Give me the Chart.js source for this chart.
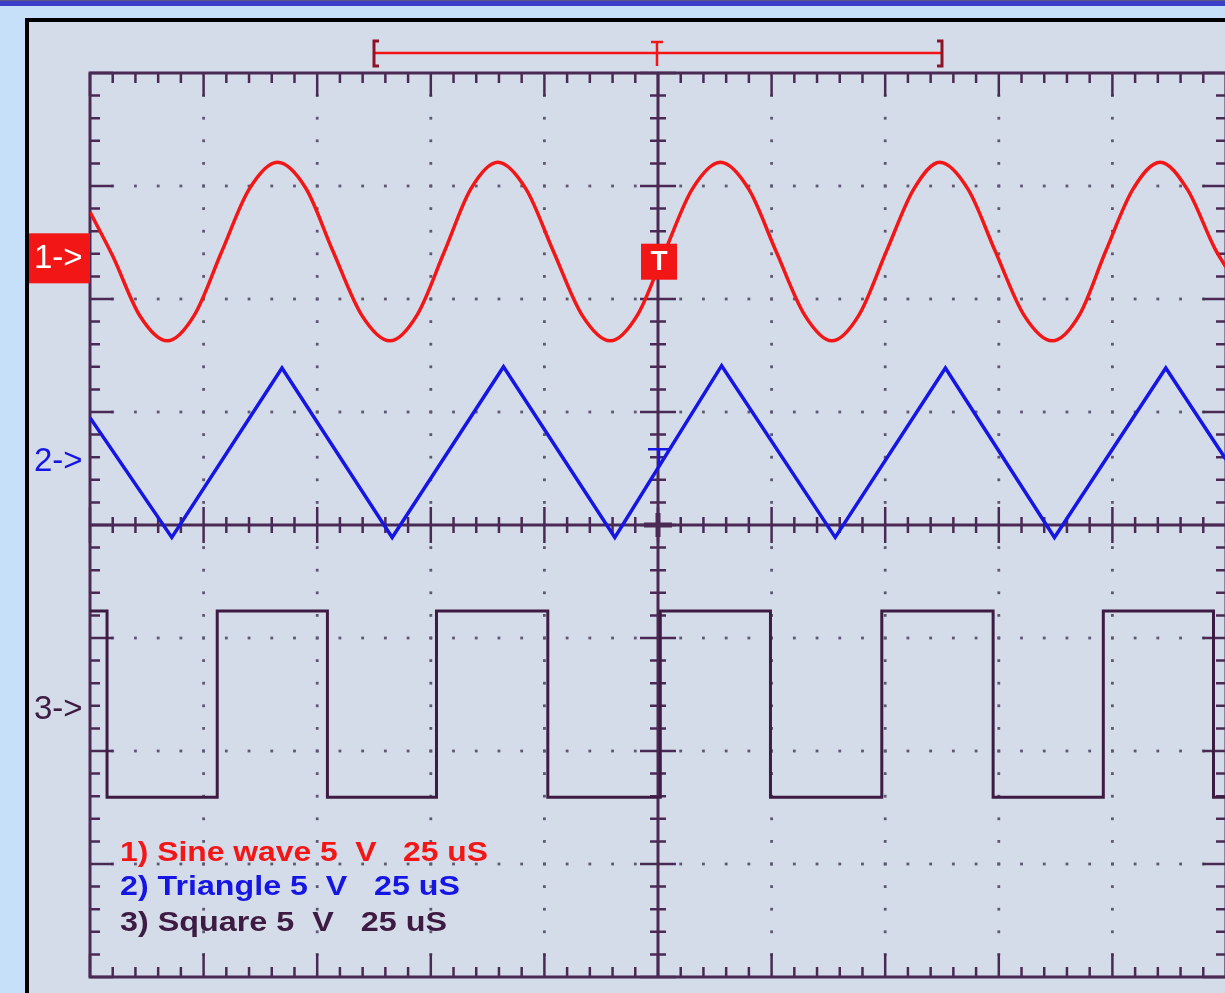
<!DOCTYPE html>
<html>
<head>
<meta charset="utf-8">
<script src="https://cdn.jsdelivr.net/npm/chart.js@4.4.0/dist/chart.umd.min.js"></script>
<style>
  html, body { margin: 0; padding: 0; overflow: hidden; }
  body { width: 1225px; height: 993px; background: #c6e0fa; position: relative; }
  #topbar { position: absolute; left: 0; top: 0; width: 1225px; height: 6px; background: #3b3fc9; border-top: 1px solid #5a5a80; box-sizing: border-box; }
  #panel { position: absolute; left: 25px; top: 18px; width: 1220px; height: 990px; background: #d4dcea; border-left: 4px solid #000; border-top: 4px solid #000; }
  #scope { position: absolute; left: 0; top: 0; }
</style>
</head>
<body>
<div id="topbar"></div>
<div id="panel"></div>
<canvas id="scope" width="1240" height="993"></canvas>
<script>
// time in divisions (25 uS/div), amplitude in divisions (5 V/div)
const sineTime = [0.00, 0.20, 0.44, 0.68, 0.92, 1.16, 1.40, 1.65, 1.90, 2.14, 2.39, 2.64,
  2.88, 3.12, 3.35, 3.59, 3.84, 4.08, 4.33, 4.58, 4.82, 5.06, 5.30, 5.55, 5.80, 6.04,
  6.29, 6.53, 6.77, 7.01, 7.25, 7.48, 7.73, 7.97, 8.22, 8.47, 8.71, 8.94, 9.18, 9.42,
  9.66, 9.90, 10.0];
const sineVolts = [2.77, 2.38, 1.85, 1.63, 1.86, 2.42, 2.97, 3.21, 2.98, 2.42, 1.86, 1.63,
  1.86, 2.42, 2.97, 3.21, 2.97, 2.42, 1.86, 1.63, 1.86, 2.42, 2.97, 3.21, 2.97, 2.42,
  1.86, 1.63, 1.86, 2.42, 2.97, 3.21, 2.97, 2.42, 1.86, 1.63, 1.86, 2.42, 2.97, 3.21,
  2.97, 2.45, 2.28];

const triTime = [0, 0.72, 1.69, 2.66, 3.64, 4.62, 5.56, 6.56, 7.53, 8.49, 9.47, 10];
const triVolts = [0.95, -0.11, 1.39, -0.11, 1.40, -0.11, 1.41, -0.11, 1.39, -0.11, 1.39, 0.58];

const squareTime = [0, 0.15, 1.12, 2.09, 3.05, 4.03, 5.02, 5.99, 6.97, 7.95, 8.92, 9.89, 10];
const squareVolts = [-0.76, -2.41, -0.76, -2.41, -0.76, -2.41, -0.76, -2.41, -0.76, -2.41, -0.76, -2.41, -2.41];

const channelNames = ['1->', '2->', '3->'];
const channelLevels = [2.36, 0.57, -1.63];
const legendLines = ['1) Sine wave 5  V   25 uS', '2) Triangle 5  V   25 uS', '3) Square 5  V   25 uS'];
const triggerTime = 5;
const triggerLevel = 2.33;
const trig2Level = 0.67;
const windowRange = [2.5, 7.5];

const RED = '#f21616';
const BLUE = '#1616e4';
const DARK = '#3e1b42';
const AXIS = '#4a2a55';
const DOT = '#5e5872';

const pts = (t, v) => t.map((x, i) => ({ x: x, y: v[i] }));

const graticule = {
  id: 'graticule',
  beforeDatasetsDraw(chart) {
    const { ctx, chartArea: a, scales: { x, y } } = chart;
    ctx.save();
    // dotted grid
    ctx.fillStyle = DOT;
    for (let i = 1; i < 10; i++) {
      if (i === 5) continue;
      const px = x.getPixelForValue(i);
      for (let k = 1; k < 40; k++) {
        const py = y.getPixelForValue(-4 + k * 0.2);
        ctx.fillRect(px - 1.4, py - 1.4, 2.8, 2.8);
      }
    }
    for (let j = -3; j <= 3; j++) {
      if (j === 0) continue;
      const py = y.getPixelForValue(j);
      for (let k = 1; k < 50; k++) {
        const px = x.getPixelForValue(k * 0.2);
        ctx.fillRect(px - 1.4, py - 1.4, 2.8, 2.8);
      }
    }
    ctx.strokeStyle = AXIS;
    ctx.lineWidth = 3;
    ctx.strokeRect(a.left, a.top, a.right - a.left, a.bottom - a.top);
    const cx = x.getPixelForValue(5);
    const cy = y.getPixelForValue(0);
    ctx.beginPath();
    ctx.moveTo(cx, a.top); ctx.lineTo(cx, a.bottom);
    ctx.moveTo(a.left, cy); ctx.lineTo(a.right, cy);
    ctx.stroke();
    // ticks
    ctx.lineWidth = 2.5;
    ctx.beginPath();
    for (let k = 0; k <= 50; k++) {
      const px = x.getPixelForValue(k * 0.2);
      const major = k % 5 === 0;
      const len = major ? 23 : 10;
      const c = major ? 18 : 8;
      ctx.moveTo(px, a.top); ctx.lineTo(px, a.top + len);
      ctx.moveTo(px, a.bottom); ctx.lineTo(px, a.bottom - len);
      ctx.moveTo(px, cy - c); ctx.lineTo(px, cy + c);
    }
    for (let k = 0; k <= 40; k++) {
      const py = y.getPixelForValue(-4 + k * 0.2);
      const major = k % 5 === 0;
      const len = major ? 23 : 10;
      const c = major ? 18 : 8;
      ctx.moveTo(a.left, py); ctx.lineTo(a.left + len, py);
      ctx.moveTo(a.right, py); ctx.lineTo(a.right - len, py);
      ctx.moveTo(cx - c, py); ctx.lineTo(cx + c, py);
    }
    ctx.stroke();
    // thicker cross at the centre
    ctx.lineWidth = 5;
    ctx.beginPath();
    ctx.moveTo(cx - 14, cy); ctx.lineTo(cx + 14, cy);
    ctx.moveTo(cx, cy - 12); ctx.lineTo(cx, cy + 12);
    ctx.stroke();
    ctx.restore();
  }
};

const overlay = {
  id: 'overlay',
  afterDatasetsDraw(chart) {
    const { ctx, chartArea: a, scales: { x, y } } = chart;
    ctx.save();
    // channel markers
    ctx.font = '33px "Liberation Sans", Arial, sans-serif';
    ctx.textBaseline = 'middle';
    const chColors = [RED, BLUE, DARK];
    channelNames.forEach((name, i) => {
      const py = y.getPixelForValue(channelLevels[i]);
      if (i === 0) {
        ctx.fillStyle = RED;
        ctx.fillRect(29, py - 25, a.left - 29, 50);
        ctx.fillStyle = '#fff';
      } else {
        ctx.fillStyle = chColors[i];
      }
      ctx.fillText(name, 34, py + 1);
    });

    // trigger box
    const tx = x.getPixelForValue(triggerTime);
    const ty = y.getPixelForValue(triggerLevel);
    ctx.fillStyle = RED;
    ctx.fillRect(tx - 17, ty - 18, 36, 36);
    ctx.fillStyle = '#fff';
    ctx.font = 'bold 28px "Liberation Sans", Arial, sans-serif';
    ctx.textAlign = 'center';
    ctx.fillText('T', tx + 1, ty + 1);
    ctx.textAlign = 'left';

    // small blue level marker
    const by = y.getPixelForValue(trig2Level);
    ctx.strokeStyle = BLUE;
    ctx.lineWidth = 2.5;
    ctx.beginPath();
    ctx.moveTo(tx - 10, by); ctx.lineTo(tx + 12, by);
    ctx.moveTo(tx + 1, by); ctx.lineTo(tx + 1, by + 16);
    ctx.stroke();

    // acquisition window bracket
    const bl = x.getPixelForValue(windowRange[0]);
    const br = x.getPixelForValue(windowRange[1]);
    const bt = a.top - 32, bb = a.top - 7, bm = a.top - 20;
    ctx.strokeStyle = RED;
    ctx.lineWidth = 2.5;
    ctx.beginPath();
    ctx.moveTo(bl, bm); ctx.lineTo(br, bm);
    ctx.moveTo(tx - 1, bt); ctx.lineTo(tx - 1, bb);
    ctx.moveTo(tx - 7, bt + 1); ctx.lineTo(tx + 5, bt + 1);
    ctx.stroke();
    ctx.strokeStyle = '#8c1426';
    ctx.lineWidth = 3;
    ctx.beginPath();
    ctx.moveTo(bl + 5, bt); ctx.lineTo(bl, bt); ctx.lineTo(bl, bb); ctx.lineTo(bl + 5, bb);
    ctx.moveTo(br - 5, bt); ctx.lineTo(br, bt); ctx.lineTo(br, bb); ctx.lineTo(br - 5, bb);
    ctx.stroke();

    // legend text
    ctx.font = 'bold 27px "Liberation Sans", Arial, sans-serif';
    ctx.textBaseline = 'alphabetic';
    const widths = [368, 340, 327];
    const bases = [a.bottom - 116, a.bottom - 82, a.bottom - 46];
    legendLines.forEach((s, i) => {
      ctx.save();
      const w = ctx.measureText(s).width;
      ctx.translate(a.left + 30, bases[i]);
      ctx.scale(widths[i] / w, 1);
      ctx.fillStyle = chColors[i];
      ctx.fillText(s, 0, 0);
      ctx.restore();
    });
    ctx.restore();
  }
};

new Chart(document.getElementById('scope').getContext('2d'), {
  type: 'scatter',
  data: {
    datasets: [{
      label: 'Sine wave',
      data: pts(sineTime, sineVolts),
      showLine: true,
      borderColor: RED,
      borderWidth: 3.5,
      pointRadius: 0,
      cubicInterpolationMode: 'monotone'
    }, {
      label: 'Triangle',
      data: pts(triTime, triVolts),
      showLine: true,
      borderColor: BLUE,
      borderWidth: 3.5,
      pointRadius: 0,
      tension: 0
    }, {
      label: 'Square',
      data: pts(squareTime, squareVolts),
      showLine: true,
      stepped: 'before',
      borderColor: DARK,
      borderWidth: 3,
      pointRadius: 0
    }]
  },
  options: {
    responsive: false,
    animation: false,
    events: [],
    layout: { padding: { left: 90, top: 73, right: 14, bottom: 16 } },
    scales: {
      x: { type: 'linear', min: 0, max: 10, display: false },
      y: { type: 'linear', min: -4, max: 4, display: false }
    },
    plugins: {
      legend: { display: false },
      tooltip: { enabled: false }
    }
  },
  plugins: [graticule, overlay]
});
</script>
</body>
</html>
